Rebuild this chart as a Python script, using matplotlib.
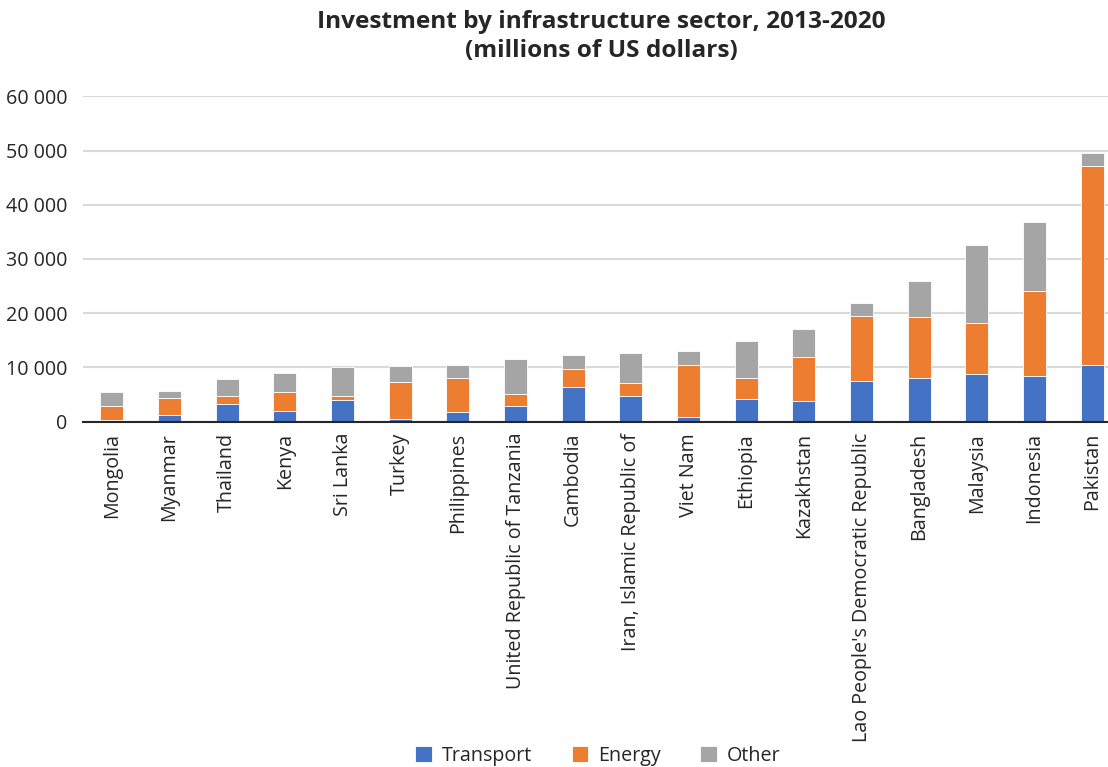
import matplotlib.pyplot as plt
import numpy as np

countries = ["Mongolia", "Myanmar", "Thailand", "Kenya", "Sri Lanka", "Turkey",
             "Philippines", "United Republic of Tanzania", "Cambodia",
             "Iran, Islamic Republic of", "Viet Nam", "Ethiopia", "Kazakhstan",
             "Lao People's Democratic Republic", "Bangladesh", "Malaysia",
             "Indonesia", "Pakistan"]

# millions of US dollars
transport = [370, 1300, 3230, 1990, 4040, 560, 1860, 2980, 6340,
             4660, 800, 4110, 3740, 7420, 8040, 8710, 8400, 10490]
energy = [2610, 2990, 1490, 3410, 620, 6710, 6150, 2180, 3410,
          2460, 9570, 3870, 8100, 12150, 11220, 9450, 15650, 36750]
other = [2420, 1360, 3230, 3540, 5340, 2980, 2420, 6330, 2610,
         5460, 2630, 6920, 5340, 2270, 6750, 14360, 12760, 2330]

colors = {"Transport": "#4472C4", "Energy": "#ED7D31", "Other": "#A5A5A5"}

plt.rcParams['font.family'] = ['Open Sans', 'DejaVu Sans']

fig = plt.figure(figsize=(11.08, 7.67), dpi=100)
# axes runs slightly past the right edge of the canvas
ax = fig.add_axes([83 / 1108, 345.3 / 767, 1038 / 1108, 325.4 / 767])

x = np.arange(len(countries))
t = np.array(transport)
e = np.array(energy)
o = np.array(other)
w = 0.4
ax.bar(x, t, w, color=colors["Transport"], edgecolor="white", linewidth=0.6, label="Transport", zorder=3)
ax.bar(x, e, w, bottom=t, color=colors["Energy"], edgecolor="white", linewidth=0.6, label="Energy", zorder=3)
ax.bar(x, o, w, bottom=t + e, color=colors["Other"], edgecolor="white", linewidth=0.6, label="Other", zorder=3)

ax.set_xlim(-0.5, len(countries) - 0.5)
ax.set_ylim(0, 60000)
ax.set_yticks(np.arange(0, 60001, 10000))
ax.set_yticklabels([f"{v:,}".replace(",", " ") for v in range(0, 60001, 10000)])
ax.set_xticks(x)
ax.set_xticklabels(countries, rotation=90)

ax.grid(axis='y', color="#D9D9D9", linewidth=1.5, zorder=0)
for s in ["top", "right", "left"]:
    ax.spines[s].set_visible(False)
ax.spines["bottom"].set_color("#262626")
ax.spines["bottom"].set_linewidth(1.5)
ax.spines["bottom"].set_zorder(4)
ax.tick_params(axis='both', length=0, labelsize=14.2, colors="#262626")
ax.tick_params(axis='y', pad=11.5)
ax.tick_params(axis='x', pad=8)

fig.text(601 / 1108, 1 - 10 / 767,
         "Investment by infrastructure sector, 2013-2020\n(millions of US dollars)",
         ha='center', va='top', fontsize=17.6, fontweight='bold', color="#262626",
         linespacing=1.3)

fig.legend(loc='center', bbox_to_anchor=(598 / 1108, 11 / 767), ncol=3,
           frameon=False, fontsize=14.2, handlelength=0.85, handleheight=0.85,
           handletextpad=0.5, columnspacing=2.0, labelcolor="#262626")

fig.savefig("out.png", dpi=100)
